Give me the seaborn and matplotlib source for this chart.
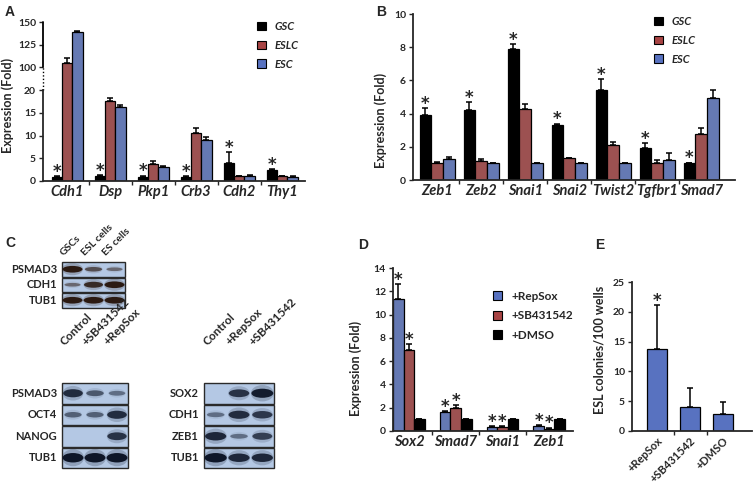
import numpy as np
import pandas as pd
import matplotlib
matplotlib.use("Agg")
import matplotlib.pyplot as plt
import seaborn as sns
from matplotlib.patches import Patch, Rectangle, Ellipse

# ---- panel A data ----
genes_a = ["Cdh1", "Dsp", "Pkp1", "Crb3", "Cdh2", "Thy1"]
gsc_a = [0.9, 1.0, 0.9, 0.9, 3.9, 2.5]
eslc_a = [104.5, 17.7, 3.7, 10.6, 1.1, 1.1]
esc_a = [138.5, 16.3, 3.0, 9.1, 1.0, 0.95]
gsc_a_err = [0.1, 0.3, 0.3, 0.1, 2.4, 0.2]
eslc_a_err = [6.0, 0.6, 0.7, 1.0, 0.05, 0.05]
esc_a_err = [1.5, 0.4, 0.3, 0.5, 0.4, 0.05]
stars_a = [[1, 1, 1, 1, 1, 1], [0] * 6, [0] * 6]
yticks_a = [0, 5, 10, 15, 20, 100, 125, 150]

# ---- panel B data ----
genes_b = ["Zeb1", "Zeb2", "Snai1", "Snai2", "Twist2", "Tgfbr1", "Smad7"]
gsc_b = [3.9, 4.2, 7.9, 3.3, 5.45, 1.9, 1.0]
eslc_b = [1.0, 1.15, 4.3, 1.3, 2.1, 1.0, 2.8]
esc_b = [1.25, 1.0, 1.0, 1.0, 1.0, 1.2, 4.95]
gsc_b_err = [0.45, 0.5, 0.3, 0.1, 0.65, 0.3, 0.05]
eslc_b_err = [0.1, 0.1, 0.25, 0.05, 0.2, 0.2, 0.35]
esc_b_err = [0.15, 0.05, 0.05, 0.05, 0.05, 0.4, 0.5]
stars_b = [[1] * 7, [0] * 7, [0] * 7]

groups_ab = ["GSC", "ESLC", "ESC"]
colors_ab = ["#000000", "#a84444", "#5872c0"]

# ---- panel C blots (relative band strength per lane) ----
top_rows = ["PSMAD3", "CDH1", "TUB1"]
top_lanes = ["GSCs", "ESL cells", "ES cells"]
top_bands = [[1.0, 0.55, 0.35], [0.35, 0.85, 1.0], [1.0, 1.0, 1.0]]
left_rows = ["PSMAD3", "OCT4", "NANOG", "TUB1"]
left_lanes = ["Control", "+SB431542", "+RepSox"]
left_bands = [[0.8, 0.45, 0.3], [0.4, 0.4, 0.8], [0.0, 0.0, 0.75], [1.0, 1.0, 1.0]]
right_rows = ["SOX2", "CDH1", "ZEB1", "TUB1"]
right_lanes = ["Control", "+RepSox", "+SB431542"]
right_bands = [[0.0, 0.75, 0.95], [0.3, 0.8, 0.7], [0.85, 0.3, 0.65], [1.0, 0.85, 0.85]]

# ---- panel D data ----
genes_d = ["Sox2", "Smad7", "Snai1", "Zeb1"]
groups_d = ["+RepSox", "+SB431542", "+DMSO"]
colors_d = ["#5872c0", "#a84444", "#000000"]
repsox_d = [11.3, 1.6, 0.35, 0.45]
sb_d = [6.95, 2.0, 0.35, 0.2]
dmso_d = [1.0, 1.0, 1.0, 1.0]
repsox_d_err = [1.3, 0.1, 0.05, 0.05]
sb_d_err = [0.55, 0.25, 0.05, 0.1]
dmso_d_err = [0.02, 0.02, 0.05, 0.05]
stars_d = [[1, 1, 1, 1], [1, 1, 1, 1], [0, 0, 0, 0]]

# ---- panel E data ----
treat_e = ["+RepSox", "+SB431542", "+DMSO"]
colonies_e = [13.7, 4.1, 2.85]
colonies_e_err = [7.5, 3.1, 2.0]
stars_e = [1, 0, 0]

W, H = 753, 484
sns.set_theme(style="ticks")
plt.rcParams["font.family"] = ["Lato", "DejaVu Sans"]
plt.rcParams["font.weight"] = "bold"
plt.rcParams["axes.labelweight"] = "bold"

fig = plt.figure(figsize=(W / 100, H / 100), dpi=100)


def add_ax(x0, y0, x1, y1):
    return fig.add_axes([x0 / W, 1 - y1 / H, (x1 - x0) / W, (y1 - y0) / H])


def grouped(ax, cats, names, series, colors, width):
    df = pd.DataFrame(
        [(c, n, v) for n, vals in zip(names, series) for c, v in zip(cats, vals)],
        columns=["cat", "grp", "val"],
    )
    sns.barplot(data=df, x="cat", y="val", hue="grp", order=cats, hue_order=names,
                palette=colors, width=width, gap=0, errorbar=None,
                edgecolor="black", linewidth=0.9, legend=False, ax=ax)


def add_err(ax, errs, stars, star_size=12):
    for cont, err, st in zip(ax.containers, errs, stars):
        xs = [p.get_x() + p.get_width() / 2 for p in cont]
        ys = [p.get_height() for p in cont]
        ax.errorbar(xs, ys, yerr=[np.zeros(len(err)), err], fmt="none",
                    ecolor="black", elinewidth=1.1, capsize=2.0, capthick=1.1)
        for x, y, e, s in zip(xs, ys, err, st):
            if s:
                ax.annotate("*", (x, y + e), xytext=(0, -3.5), textcoords="offset points",
                            ha="center", va="bottom", fontsize=star_size,
                            fontweight="bold", family="DejaVu Sans")


def style(ax, cats, xlim, ylim, yticks, fs=10.5, italic=True):
    ax.set_xlim(*xlim)
    ax.set_ylim(*ylim)
    sns.despine(ax=ax)
    for s in ["left", "bottom"]:
        ax.spines[s].set_linewidth(1.3)
    ax.set_xticks(range(len(cats)), cats, fontsize=fs, fontweight="bold",
                  fontstyle="italic" if italic else "normal")
    ax.set_xticks(np.arange(len(cats) - 1) + 0.5, minor=True)
    ax.tick_params(axis="x", which="major", length=0, pad=3)
    ax.tick_params(axis="x", which="minor", length=3, width=1)
    ax.set_yticks(yticks)
    ax.tick_params(axis="y", length=3, width=1, labelsize=7.5, pad=2)
    for t in ax.get_yticklabels():
        t.set_fontweight("bold")
    ax.set_xlabel("")


def legend(ax, names, colors, x, y, italic, size=8):
    handles = [Patch(facecolor=c, edgecolor="black", linewidth=0.8) for c in colors]
    lg = ax.legend(handles, names, loc="upper left", bbox_to_anchor=(x / W, 1 - y / H),
                   bbox_transform=fig.transFigure, frameon=False, handlelength=0.8,
                   handleheight=0.8, handletextpad=0.8, labelspacing=0.7,
                   borderaxespad=0, borderpad=0,
                   prop={"size": size, "weight": "bold",
                         "style": "italic" if italic else "normal"})
    return lg


# ---------- A ----------
ax_a = add_ax(43, 22, 305, 181)
grouped(ax_a, genes_a, groups_ab, [gsc_a, eslc_a, esc_a], colors_ab, 0.72)


def fwd(y):
    y = np.asarray(y, dtype=float)
    return np.where(y <= 20, y / 5, np.where(y <= 100, 4 + (y - 20) / 80, 5 + (y - 100) / 25))


def inv(u):
    u = np.asarray(u, dtype=float)
    return np.where(u <= 4, u * 5, np.where(u <= 5, 20 + (u - 4) * 80, 100 + (u - 5) * 25))


ax_a.set_yscale("function", functions=(fwd, inv))
add_err(ax_a, [gsc_a_err, eslc_a_err, esc_a_err], stars_a)
style(ax_a, genes_a, (-0.56, 5.53), (0, 150), yticks_a)
ax_a.yaxis.set_minor_locator(matplotlib.ticker.NullLocator())
ax_a.set_yticks(yticks_a, [str(t) for t in yticks_a], fontweight="bold")
ax_a.spines["left"].set_bounds(0, 20)
yt = ax_a.get_yaxis_transform()
ax_a.plot([0, 0], [20, 100], transform=yt, color="black", lw=1, ls=(0, (1, 1.5)), clip_on=False)
ax_a.plot([0, 0], [100, 150], transform=yt, color="black", lw=1.3, clip_on=False)
ax_a.set_ylabel("Expression (Fold)", fontsize=9)
ax_a.yaxis.set_label_coords((14 - 43) / 262, 1 - (105 - 22) / 159)
legend(ax_a, groups_ab, colors_ab, 257, 21, True)

# ---------- B ----------
ax_b = add_ax(413, 14, 735, 180)
grouped(ax_b, genes_b, groups_ab, [gsc_b, eslc_b, esc_b], colors_ab, 0.8)
add_err(ax_b, [gsc_b_err, eslc_b_err, esc_b_err], stars_b)
style(ax_b, genes_b, (-0.55, 6.77), (0, 10), [0, 2, 4, 6, 8, 10])
ax_b.set_ylabel("Expression (Fold)", fontsize=9)
ax_b.yaxis.set_label_coords((387 - 413) / 322, 1 - (120 - 14) / 166)
legend(ax_b, groups_ab, colors_ab, 654, 16, True)

# ---------- D ----------
ax_d = add_ax(393, 268, 573, 431)
grouped(ax_d, genes_d, groups_d, [repsox_d, sb_d, dmso_d], colors_d, 0.68)
add_err(ax_d, [repsox_d_err, sb_d_err, dmso_d_err], stars_d)
style(ax_d, genes_d, (-0.34, 3.51), (0, 14), [0, 2, 4, 6, 8, 10, 12, 14])
ax_d.set_ylabel("Expression (Fold)", fontsize=9)
ax_d.yaxis.set_label_coords((362 - 393) / 180, 1 - (368 - 268) / 163)
legend(ax_d, groups_d, colors_d, 493, 291, False, size=8.5)

# ---------- E ----------
ax_e = add_ax(632, 282, 752, 431)
sns.barplot(x=treat_e, y=colonies_e, color="#5872c0", saturation=1, width=0.62,
            edgecolor="black", linewidth=0.9, errorbar=None, ax=ax_e)
add_err(ax_e, [colonies_e_err], [stars_e])
style(ax_e, treat_e, (-0.76, 2.88), (0, 25), [0, 5, 10, 15, 20, 25], fs=8, italic=False)
for t in ax_e.get_xticklabels():
    t.set_rotation(45)
    t.set_ha("right")
    t.set_rotation_mode("anchor")
ax_e.set_ylabel("ESL colonies/100 wells", fontsize=9)
ax_e.yaxis.set_label_coords((606 - 632) / 120, 1 - (350 - 282) / 149)

# ---------- C (blots) ----------
ov = fig.add_axes([0, 0, 1, 1], zorder=-1)
ov.set_xlim(0, W)
ov.set_ylim(H, 0)
ov.axis("off")


def blot(x0, y0, w, row_h, gap, rows, lanes, bands, lab_x, band_col, lab_y, lane_fs):
    lane_w = w / len(lanes)
    for i, (r, row) in enumerate(zip(rows, bands)):
        top = y0 + i * (row_h + gap)
        ov.add_patch(Rectangle((x0, top), w, row_h, facecolor="#b4c8e4",
                               edgecolor="#2a2a2a", lw=1))
        ov.text(lab_x, top + row_h / 2, r, ha="right", va="center", fontsize=8,
                fontweight="bold")
        for j, v in enumerate(row):
            if v <= 0:
                continue
            cx = x0 + (j + 0.5) * lane_w
            cy = top + row_h / 2
            ew = lane_w * 0.95 * (0.7 + 0.3 * v)
            eh = row_h * (0.14 + 0.32 * v)
            ov.add_patch(Ellipse((cx, cy), ew * 1.05, eh * 1.8, facecolor=band_col,
                                 alpha=0.22 * v, lw=0))
            ov.add_patch(Ellipse((cx, cy), ew, eh, facecolor=band_col,
                                 alpha=min(1, 0.25 + 0.75 * v), lw=0))
    for j, lab in enumerate(lanes):
        ov.text(x0 + (j + 0.5) * lane_w - 7, lab_y, lab, rotation=45, ha="left",
                va="bottom", rotation_mode="anchor", fontsize=lane_fs, fontweight="bold")


blot(62, 262, 63, 14.5, 1, top_rows, top_lanes, top_bands, 57, "#2b1a12", 257, 7.5)
blot(62, 383, 66, 20.5, 1, left_rows, left_lanes, left_bands, 57, "#0e1628", 347, 8.5)
blot(204, 383, 70, 20.5, 1, right_rows, right_lanes, right_bands, 199, "#0e1628", 347, 8.5)

for lab, x, y in [("A", 5, 12), ("B", 376, 12), ("C", 5, 243), ("D", 358, 245), ("E", 595, 245)]:
    fig.text(x / W, 1 - y / H, lab, fontsize=10, fontweight="bold",
             family=["Liberation Sans", "DejaVu Sans"], va="center", ha="left")

fig.savefig("out.png", dpi=100)
